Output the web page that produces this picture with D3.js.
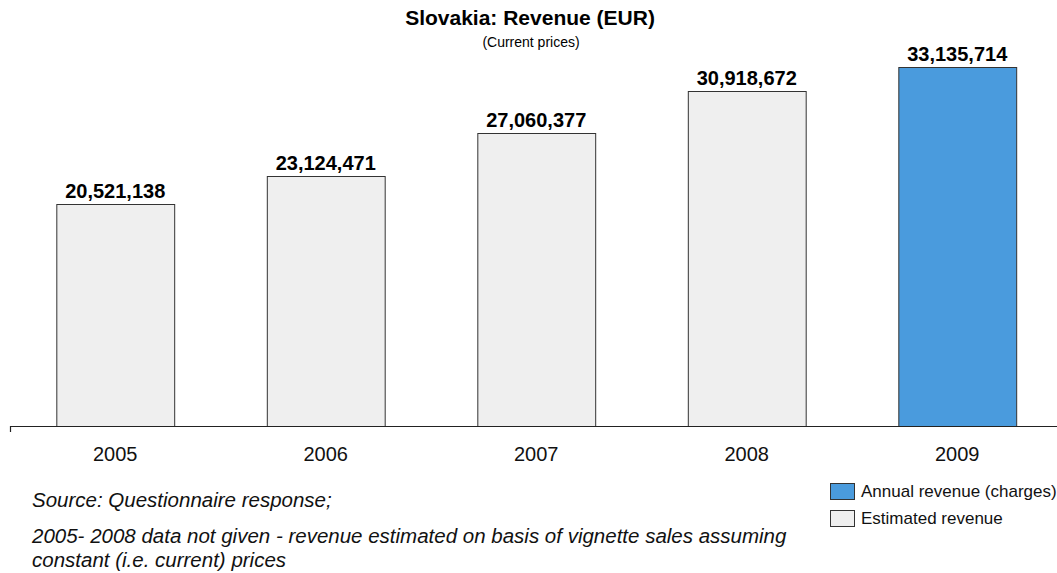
<!DOCTYPE html>
<html>
<head>
<meta charset="utf-8">
<script src="https://cdn.jsdelivr.net/npm/d3@7"></script>
<style>
  body { margin: 0; background: #fff; }
  svg { display: block; font-family: "Liberation Sans", Arial, Helvetica, sans-serif; }
</style>
</head>
<body>
<svg id="chart" width="1057" height="573"></svg>
<script>
const years = ["2005", "2006", "2007", "2008", "2009"];
const revenue = [20521138, 23124471, 27060377, 30918672, 33135714];
const barType = ["Estimated revenue", "Estimated revenue", "Estimated revenue", "Estimated revenue", "Annual revenue (charges)"];
const legendLabels = ["Annual revenue (charges)", "Estimated revenue"];
const notes = [
    "Source: Questionnaire response;",
    "2005- 2008 data not given - revenue estimated on basis of vignette sales assuming",
    "constant (i.e. current) prices"
];

const svg = d3.select("#chart");
const baseY = 426;

const x = d3.scaleBand().domain(years).range([10, 1062.5]).paddingInner(0.44).paddingOuter(0.22);
const y = d3.scaleLinear().domain([0, 36000000]).range([baseY, baseY - 389.5]);
const color = d3.scaleOrdinal().domain(legendLabels).range(["#4a9bdd", "#efefef"]);

const data = years.map((yr, i) => ({year: yr, value: revenue[i], type: barType[i]}));

// title
svg.append("text")
    .attr("x", 530).attr("y", 25)
    .attr("text-anchor", "middle")
    .style("font-size", "21px").style("font-weight", "bold")
    .text("Slovakia: Revenue (EUR)");
svg.append("text")
    .attr("x", 531).attr("y", 47)
    .attr("text-anchor", "middle")
    .style("font-size", "14px")
    .text("(Current prices)");

// bars
svg.selectAll(".bar")
    .data(data)
    .enter().append("rect")
    .attr("class", "bar")
    .attr("x", d => x(d.year) + 0.5)
    .attr("y", d => Math.round(y(d.value)) + 0.5)
    .attr("width", x.bandwidth())
    .attr("height", d => baseY - Math.round(y(d.value)))
    .attr("fill", d => color(d.type))
    .attr("stroke", "#333")
    .attr("stroke-width", 1);

// value labels
svg.selectAll(".val")
    .data(data)
    .enter().append("text")
    .attr("class", "val")
    .attr("x", d => x(d.year) + x.bandwidth() / 2)
    .attr("y", d => y(d.value) - 6)
    .attr("text-anchor", "middle")
    .style("font-size", "20px").style("font-weight", "bold")
    .text(d => d3.format(",")(d.value));

// x axis
const axis = svg.append("g")
    .attr("transform", "translate(0," + baseY + ")")
    .call(d3.axisBottom(x).tickSizeInner(0).tickSizeOuter(6).tickPadding(21));
axis.select(".domain").attr("stroke", "#222").attr("stroke-width", 1.2);
axis.selectAll("text")
    .attr("fill", "#111")
    .style("font-size", "20px")
    .style("font-family", "'Liberation Sans', Arial, Helvetica, sans-serif");

// notes
svg.selectAll(".note")
    .data(notes)
    .enter().append("text")
    .attr("class", "note")
    .attr("x", 32)
    .attr("y", (d, i) => [507, 543, 567][i])
    .style("font-size", "20.5px").style("font-style", "italic")
    .attr("fill", "#111")
    .text(d => d);

// legend
const leg = svg.selectAll(".leg")
    .data(legendLabels)
    .enter().append("g")
    .attr("class", "leg")
    .attr("transform", (d, i) => "translate(830," + (483 + i * 27) + ")");
leg.append("rect")
    .attr("x", 0.5).attr("y", 0.5)
    .attr("width", 24).attr("height", 16)
    .attr("fill", d => color(d))
    .attr("stroke", "#333");
leg.append("text")
    .attr("x", 31).attr("y", 14)
    .style("font-size", "17px")
    .attr("fill", "#111")
    .text(d => d);
</script>
</body>
</html>
